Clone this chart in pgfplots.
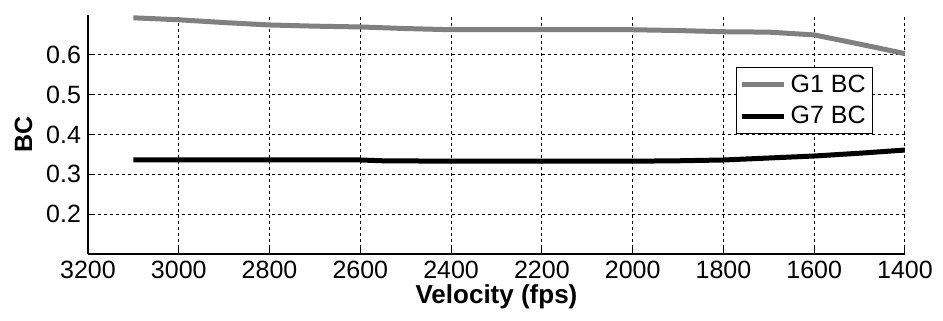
\documentclass[border=0pt]{standalone}
\usepackage{fontspec}
\setmainfont{Liberation Sans}
\usepackage{pgfplots}
\usetikzlibrary{calc}
\pgfplotsset{compat=1.18}
\begin{document}
\begin{tikzpicture}
\begin{axis}[
  name=ax,
  scale only axis,
  width=408.5pt, height=119.5pt,
  x dir=reverse,
  xmin=1400, xmax=3200, ymin=0.1, ymax=0.7,
  xtick={1400,1600,...,3200},
  ytick={0.2,0.3,0.4,0.5,0.6},
  axis lines*=left,
  axis line style={black, line width=0.6pt},
  tick style={black, line width=0.5pt},
  tick align=inside,
  major tick length=3pt,
  grid=major,
  major grid style={black, line width=0.5pt, dash pattern=on 1.5pt off 1.5pt},
  font=\fontsize{12.5}{15}\selectfont,
  tick label style={font=\fontsize{12.5}{15}\selectfont},
  /pgf/number format/assume math mode=true,
  /pgf/number format/1000 sep={},
  yticklabel style={/pgf/number format/.cd, fixed, fixed zerofill, precision=1},
  xlabel={\textbf{Velocity (fps)}},
  xlabel style={font=\fontsize{13}{15}\selectfont, yshift=4pt},
  ylabel={\textbf{BC}},
  ylabel style={yshift=0pt},
  legend style={at={(0.961,0.782)}, anchor=north east, draw=black, line width=0.5pt,
    font=\fontsize{12.5}{15}\selectfont, inner sep=1.5pt, row sep=1.5pt,
    legend cell align=left},
  legend image code/.code={\draw[#1] (0pt,0pt) -- (21pt,0pt);},
]
\addplot[color={rgb,255:red,128;green,128;blue,128}, line width=2.5pt] coordinates {
(3100,0.693) (3000,0.688) (2900,0.681) (2800,0.675) (2700,0.672) (2600,0.670)
(2500,0.666) (2400,0.663) (2300,0.663) (2200,0.663) (2100,0.663) (2000,0.663)
(1900,0.661) (1800,0.658) (1700,0.657) (1600,0.650) (1500,0.627) (1400,0.603)
};
\addlegendentry{G1 BC}
\addplot[color=black, line width=2.5pt] coordinates {
(3100,0.336) (3000,0.336) (2800,0.336) (2600,0.336) (2550,0.334) (2400,0.333)
(2200,0.333) (2000,0.333) (1900,0.334) (1800,0.336) (1700,0.341) (1600,0.346)
(1500,0.353) (1400,0.361)
};
\addlegendentry{G7 BC}
\end{axis}
\path ($(ax.south west)+(-44pt,-33.5pt)$) rectangle ($(ax.north east)+(19pt,7.5pt)$);
\end{tikzpicture}
\end{document}
